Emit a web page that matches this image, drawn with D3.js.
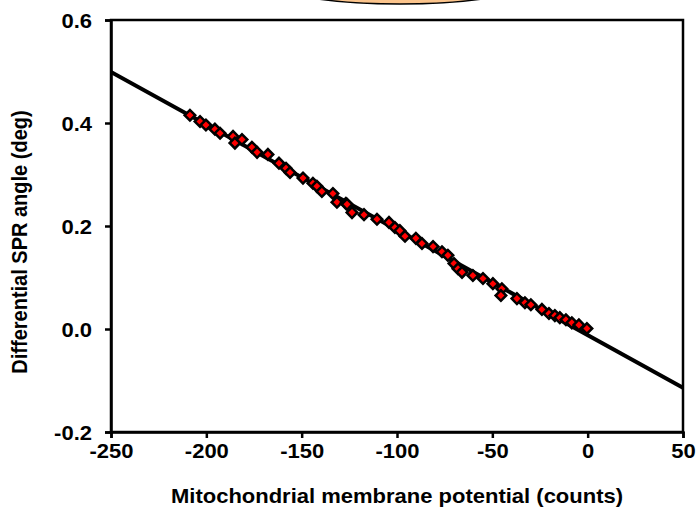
<!DOCTYPE html>
<html>
<head>
<meta charset="utf-8">
<script src="https://cdn.jsdelivr.net/npm/d3@7"></script>
<style>
body { margin: 0; background: #fff; }
text { font-family: "Liberation Sans", Arial, sans-serif; font-weight: bold; }
</style>
</head>
<body>
<script>
var w = 698,
    h = 514;

// data
var potential = [-208.6, -203.3, -200.2, -195.5, -192.8, -186, -185, -181.3, -176.1, -173.4,
    -167.7, -161.9, -158.2, -156.1, -149.3, -144.1, -142, -139.4, -133.6, -131.5,
    -126.8, -126.2, -123.6, -117.3, -110.5, -104.2, -101.1, -98.5, -95.8, -90.1,
    -86.9, -81.1, -76.4, -73.3, -70.1, -68, -65.9, -60.2, -54.9, -49.7,
    -45, -45.5, -37.1, -32.9, -29.8, -24, -20.3, -17.2, -14.6, -11.4,
    -8.3, -4.6, -0.4];
var angle = [0.415, 0.403, 0.396, 0.388, 0.380, 0.374, 0.361, 0.368, 0.353, 0.343,
    0.339, 0.322, 0.312, 0.304, 0.293, 0.283, 0.277, 0.267, 0.263, 0.246,
    0.244, 0.242, 0.226, 0.222, 0.213, 0.207, 0.197, 0.191, 0.180, 0.176,
    0.166, 0.160, 0.150, 0.143, 0.127, 0.117, 0.110, 0.104, 0.098, 0.088,
    0.078, 0.065, 0.059, 0.051, 0.047, 0.038, 0.030, 0.026, 0.022, 0.018,
    0.012, 0.008, 0.001];
var fitX = [-250, 50];
var fitY = [0.499, -0.114];
var xTicks = [-250, -200, -150, -100, -50, 0, 50];
var yTicks = [-0.2, 0.0, 0.2, 0.4, 0.6];

var points = potential.map(function(d, i) { return {x: d, y: angle[i]}; });

var mLeft = 111, mRight = 683, mTop = 20, mBottom = 432;
var fs = 20, stretch = 1.1;   // text in the picture is a bit wider than it is tall

var x = d3.scaleLinear().domain([-250, 50]).range([mLeft, mRight]);
var y = d3.scaleLinear().domain([-0.2, 0.6]).range([mBottom, mTop]);

var hyphen = function(f) { return function(d) { return f(d).replace("\u2212", "-"); }; };

var svg = d3.select("body").append("svg")
    .attr("width", w)
    .attr("height", h);

// orange callout peeking in at the top
svg.append("ellipse")
    .attr("cx", 400)
    .attr("cy", -16)
    .attr("rx", 124)
    .attr("ry", 20)
    .attr("fill", "#fbc48c")
    .attr("stroke", "#000")
    .attr("stroke-width", 1.5);

// frame
svg.append("rect")
    .attr("x", mLeft)
    .attr("y", mTop)
    .attr("width", mRight - mLeft)
    .attr("height", mBottom - mTop)
    .attr("fill", "none")
    .attr("stroke", "#000")
    .attr("stroke-width", 2.5);

var xAxis = svg.append("g")
    .attr("transform", "translate(0," + mBottom + ")")
    .call(d3.axisBottom(x).tickValues(xTicks).tickSize(6).tickPadding(0)
        .tickFormat(hyphen(d3.format("d"))));

var yAxis = svg.append("g")
    .attr("transform", "translate(" + mLeft + ",0)")
    .call(d3.axisLeft(y).tickValues(yTicks).tickSize(6).tickPadding(0)
        .tickFormat(hyphen(d3.format(".1f"))));

[xAxis, yAxis].forEach(function(a) {
    a.attr("font-size", null).attr("font-family", null);
    a.select(".domain").attr("stroke", "#000").attr("stroke-width", 2.5);
    a.selectAll(".tick line").attr("stroke", "#000").attr("stroke-width", 2.5);
    a.selectAll(".tick text")
        .attr("fill", "#000")
        .style("font-size", fs + "px");
});
xAxis.selectAll(".tick text")
    .attr("y", null).attr("dy", null)
    .attr("transform", "translate(0,26) scale(" + stretch + ",1)");
yAxis.selectAll(".tick text")
    .attr("x", null).attr("dy", "0.35em")
    .attr("transform", "translate(-19,0) scale(" + stretch + ",1)");

svg.append("clipPath")
    .attr("id", "plotClip")
    .append("rect")
    .attr("x", mLeft).attr("y", mTop)
    .attr("width", mRight - mLeft).attr("height", mBottom - mTop);

// linear fit
svg.append("line")
    .attr("clip-path", "url(#plotClip)")
    .attr("x1", x(fitX[0]))
    .attr("y1", y(fitY[0]))
    .attr("x2", x(fitX[1]))
    .attr("y2", y(fitY[1]))
    .attr("stroke", "#000")
    .attr("stroke-width", 4);

var diamond = d3.symbol().type(d3.symbolSquare).size(56);

svg.selectAll("path.pt")
    .data(points)
    .enter().append("path")
    .attr("class", "pt")
    .attr("d", diamond)
    .attr("transform", function(d) {
        return "translate(" + x(d.x) + "," + y(d.y) + ") rotate(45)";
    })
    .attr("fill", "#ff0000")
    .attr("stroke", "#000")
    .attr("stroke-width", 2.5);

svg.append("text")
    .attr("transform", "translate(" + ((mLeft + mRight) / 2) + ",503) scale(" + stretch + ",1)")
    .style("text-anchor", "middle")
    .style("font-size", fs + "px")
    .text("Mitochondrial membrane potential (counts)");

svg.append("text")
    .attr("transform", "translate(27,242) scale(" + stretch + ",1) rotate(-90)")
    .style("text-anchor", "middle")
    .style("font-size", fs + "px")
    .text("Differential SPR angle (deg)");
</script>
</body>
</html>
